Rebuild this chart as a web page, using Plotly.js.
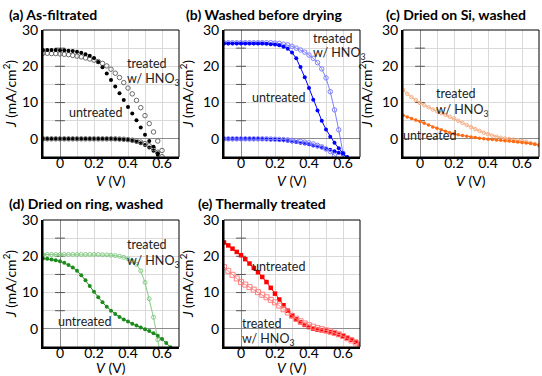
<!DOCTYPE html>
<html>
<head>
<meta charset="utf-8">
<script src="https://cdn.plot.ly/plotly-3.0.1.min.js"></script>
<style>html,body{margin:0;padding:0;background:#fff;}#chart{width:542px;height:376px;}</style>
</head>
<body>
<div id="chart"></div>
<script>
// Voltage sweep (V)
const V = [-0.1,-0.075,-0.05,-0.025,0,0.025,0.05,0.075,0.1,0.125,0.15,0.175,0.2,0.225,0.25,0.275,0.3,0.325,0.35,0.375,0.4,0.425,0.45,0.475,0.5,0.525,0.55,0.575,0.6,0.625,0.65,0.675,0.7];

// (a) As-filtrated
const aUntreatedLight = [24.5,24.5,24.5,24.5,24.4,24.4,24.3,24.2,24.0,23.7,23.3,22.9,22.3,21.2,19.7,18.0,16.2,14.4,12.6,10.7,8.8,7.0,5.1,3.1,1.1,-0.6,-2.2,-4.0,-6.0];
const aTreatedLight = [23.6,23.6,23.5,23.5,23.4,23.3,23.2,23.0,22.8,22.6,22.3,22.0,21.7,21.3,20.8,20.1,19.2,18.1,16.9,15.5,14.0,12.4,10.6,8.6,6.4,4.2,1.9,-0.6,-3.2,-5.8];
const aUntreatedDark = [0,0,0,0,0,0,0,0,0,0,0,0,0,0,0,0,0,-0.05,-0.1,-0.2,-0.3,-0.5,-0.8,-1.2,-1.7,-2.4,-3.3,-4.4,-5.7];
const aTreatedDark = [0,0,0,0,0,0,0,0,0,0,0,0,0,0,0,0,0,0,-0.05,-0.1,-0.2,-0.35,-0.6,-0.9,-1.3,-1.9,-2.7,-3.7,-4.9,-6.3];

// (b) Washed before drying
const bUntreatedLight = [26.3,26.3,26.3,26.3,26.3,26.3,26.3,26.3,26.3,26.3,26.2,26.1,26.0,25.8,25.4,24.8,23.8,22.2,19.8,17.0,14.0,10.8,7.8,5.0,2.6,0.6,-1.1,-2.6,-4.0,-5.4];
const bTreatedLight = [26.5,26.5,26.5,26.5,26.5,26.5,26.5,26.5,26.5,26.5,26.5,26.5,26.4,26.3,26.1,25.9,25.5,25.0,24.5,23.9,23.1,22.2,21.0,19.3,16.8,13.0,8.0,2.5,-4.0,-10.0];
const bUntreatedDark = [0,0,0,0,0,0,0,0,0,-0.05,-0.1,-0.15,-0.2,-0.3,-0.4,-0.55,-0.7,-0.9,-1.1,-1.3,-1.5,-1.8,-2.1,-2.4,-2.7,-3.0,-3.4,-3.8,-4.3,-5.0,-5.7];
const bTreatedDark = [0,0,0,0,0,0,0,0,0,0,0,-0.05,-0.1,-0.15,-0.2,-0.3,-0.4,-0.55,-0.7,-0.9,-1.1,-1.4,-1.8,-2.2,-2.8,-3.5,-4.5,-5.8];

// (c) Dried on Si, washed
const cUntreated = [6.5,6.0,5.6,5.2,4.8,4.3,3.8,3.3,2.9,2.5,2.1,1.7,1.4,1.1,0.9,0.7,0.5,0.35,0.2,0.05,-0.1,-0.2,-0.3,-0.4,-0.5,-0.6,-0.7,-0.85,-1.0,-1.15,-1.3,-1.5,-1.7];
const cTreated = [13.5,12.4,11.5,10.7,9.9,9.3,8.7,8.1,7.6,7.1,6.6,6.1,5.6,5.0,4.4,3.8,3.2,2.7,2.2,1.7,1.3,0.9,0.6,0.3,0.1,-0.05,-0.2,-0.4,-0.6,-0.8,-1.1,-1.4,-1.8];

// (d) Dried on ring, washed
const dUntreated = [19.4,19.3,19.1,18.9,18.6,18.2,17.6,16.9,16.0,14.8,13.4,11.8,10.2,8.7,7.3,6.1,5.0,4.1,3.3,2.6,2.0,1.4,0.9,0.4,-0.1,-0.6,-1.2,-1.9,-2.8,-3.9,-5.1];
const dTreated = [20.5,20.5,20.5,20.5,20.5,20.5,20.5,20.5,20.5,20.5,20.5,20.5,20.5,20.5,20.4,20.4,20.3,20.2,20.0,19.7,19.3,18.7,17.8,16.0,12.8,8.3,3.2,-3.0,-9.5];

// (e) Thermally treated
const eUntreated = [23.8,23.0,22.1,21.2,20.3,19.2,18.0,16.8,15.6,14.3,12.9,11.3,9.7,8.1,6.5,5.0,3.7,2.6,1.8,1.1,0.5,0.1,-0.2,-0.4,-0.6,-0.9,-1.2,-1.6,-2.0,-2.5,-3.0,-3.6,-4.2];
const eTreated = [17.0,16.0,14.9,13.9,12.9,12.2,11.5,10.8,10.1,9.4,8.7,8.0,7.3,6.4,5.4,4.5,3.6,2.8,2.1,1.5,1.0,0.6,0.2,-0.1,-0.4,-0.7,-1.1,-1.5,-2.0,-2.6,-3.2,-3.8,-4.6];

// Ticks
const xTickVals = [-0.1,0,0.1,0.2,0.3,0.4,0.5,0.6,0.7];
const xTickText = ['','0','','0.2','','0.4','','0.6',''];
const yTickVals = [-5,0,5,10,15,20,25,30];
const yTickText = ['','0','','10','','20','','30'];
const yCrossTicks = [5,10,15,20,25];

const panelTitles = ['(a) As-filtrated','(b) Washed before drying','(c) Dried on Si, washed','(d) Dried on ring, washed','(e) Thermally treated'];

const FONT = 'Lato, "Open Sans", sans-serif';

function curve(J, ax, color, symbol, size, mode, open) {
  return {
    x: V.slice(0, J.length), y: J,
    xaxis: 'x' + ax, yaxis: 'y' + ax,
    type: 'scatter', mode: mode,
    line: {color: color, width: 1},
    marker: open ? {symbol: symbol + '-open', size: size, color: color, line: {color: color, width: 1}}
                 : {symbol: symbol, size: size, color: color, line: {width: 0}},
    showlegend: false, hoverinfo: 'skip'
  };
}
function crossTicks(ax) {
  return {x: yCrossTicks.map(() => 0), y: yCrossTicks, xaxis: 'x' + ax, yaxis: 'y' + ax,
    type: 'scatter', mode: 'markers', marker: {symbol: 'line-ew', size: 7, color: '#555', line: {color: '#555', width: 1}},
    showlegend: false, hoverinfo: 'skip'};
}

const data = [
  crossTicks(''), crossTicks('2'), crossTicks('3'), crossTicks('4'), crossTicks('5'),
  curve(aUntreatedDark, '', '#000000', 'circle', 4, 'markers', false),
  curve(aTreatedDark, '', '#6a6a6a', 'circle', 4.5, 'markers', true),
  curve(aTreatedLight, '', '#6a6a6a', 'circle', 4.5, 'markers', true),
  curve(aUntreatedLight, '', '#000000', 'circle', 4, 'markers', false),
  curve(bUntreatedDark, '2', '#0000ff', 'circle', 4, 'lines+markers', false),
  curve(bTreatedDark, '2', '#8080ff', 'circle', 4.5, 'lines+markers', true),
  curve(bTreatedLight, '2', '#8080ff', 'circle', 4.5, 'lines+markers', true),
  curve(bUntreatedLight, '2', '#0000ff', 'circle', 4, 'lines+markers', false),
  curve(cTreated, '3', '#f6ad80', 'circle', 3.5, 'lines+markers', true),
  curve(cUntreated, '3', '#ff6a10', 'circle', 3.5, 'lines+markers', false),
  curve(dTreated, '4', '#86cc86', 'circle', 4, 'lines+markers', true),
  curve(dUntreated, '4', '#1c8a1c', 'circle', 4, 'lines+markers', false),
  curve(eUntreated, '5', '#ff0000', 'square', 4.5, 'lines+markers', false),
  curve(eTreated, '5', '#ff7f7f', 'square', 5, 'lines+markers', true)
];

const W = 542, H = 376;
const colPx = [[43, 179], [224, 360], [403, 539]];
const rowPx = [[30, 157], [220, 347]];
const xTitleOffset = [23, 20];
const place = [[0,0],[1,0],[2,0],[0,1],[1,1]];

const layout = {
  width: W, height: H,
  margin: {l: 0, r: 0, t: 0, b: 0},
  paper_bgcolor: '#fff', plot_bgcolor: '#fff',
  font: {family: FONT, size: 14, color: '#000'},
  showlegend: false,
  annotations: [], shapes: []
};

const suffixes = ['', '2', '3', '4', '5'];
suffixes.forEach((s, i) => {
  const [c, r] = place[i];
  const cx = colPx[c], ry = rowPx[r];
  layout['xaxis' + s] = {
    domain: [cx[0] / W, cx[1] / W], anchor: 'y' + s, range: [-0.1, 0.7],
    tickmode: 'array', tickvals: xTickVals, ticktext: xTickText,
    showgrid: true, gridcolor: '#d9d9d9', gridwidth: 1,
    zeroline: true, zerolinecolor: '#8c8c8c', zerolinewidth: 1,
    showline: true, linecolor: '#000', linewidth: 2, mirror: false,
    ticks: '', ticklabelstandoff: -8, tickfont: {family: FONT, size: 14, color: '#000'},
    automargin: false, fixedrange: true
  };
  layout['yaxis' + s] = {
    domain: [1 - ry[1] / H, 1 - ry[0] / H], anchor: 'x' + s, range: [-5, 30],
    tickmode: 'array', tickvals: yTickVals, ticktext: yTickText,
    showgrid: true, gridcolor: '#d9d9d9', gridwidth: 1,
    zeroline: true, zerolinecolor: '#8c8c8c', zerolinewidth: 1,
    showline: true, linecolor: '#000', linewidth: 2, mirror: false,
    ticks: '', tickfont: {family: FONT, size: 14, color: '#000'},
    title: {text: '<i>J</i> (mA/cm<sup>2</sup>)', font: {family: FONT, size: 14, color: '#000'}, standoff: 6},
    automargin: false, fixedrange: true
  };
  layout.shapes.push({type: 'rect', xref: 'x' + s + ' domain', yref: 'y' + s + ' domain',
    x0: 0, x1: 1, y0: 0, y1: 1, line: {color: '#000', width: 1}, layer: 'above'});
  // x-axis title placed below tick labels
  layout.annotations.push({text: '<i>V</i> (V)', xref: 'paper', yref: 'paper',
    x: (cx[0] + cx[1]) / 2 / W, y: 1 - (ry[1] + xTitleOffset[r]) / H, xanchor: 'center', yanchor: 'middle',
    borderpad: 0, showarrow: false, font: {family: FONT, size: 14, color: '#000'}});
});

// Panel titles
const titlePos = [[8, 15], [185, 15], [385, 15], [8, 204], [197, 204]];
panelTitles.forEach((t, i) => {
  layout.annotations.push({text: '<b>' + t + '</b>', xref: 'paper', yref: 'paper',
    x: titlePos[i][0] / W, y: 1 - titlePos[i][1] / H, xanchor: 'left', yanchor: 'middle',
    borderpad: 0, showarrow: false, font: {family: FONT, size: 14, color: '#000'}});
});

// Curve labels (left edge / vertical centre in pixels)
function label(text, px, py) {
  layout.annotations.push({text: text, xref: 'paper', yref: 'paper', x: px / W, y: 1 - py / H,
    xanchor: 'left', yanchor: 'middle', showarrow: false, borderpad: 0, borderwidth: 0,
    font: {family: FONT, size: 12.5, color: '#222'}});
}
const HNO3 = 'w/ HNO<sub>3</sub>';
label('treated', 127, 63); label(HNO3, 127, 80); label('untreated', 69, 112);
label('treated', 313, 38); label(HNO3, 313, 54); label('untreated', 252, 97);
label('treated', 436, 93); label(HNO3, 436, 110); label('untreated', 403, 135);
label('treated', 127, 245); label(HNO3, 127, 261); label('untreated', 58, 321);
label('untreated', 252, 266); label('treated', 242, 323); label(HNO3, 242, 339);

Plotly.newPlot('chart', data, layout, {staticPlot: true, displayModeBar: false});
</script>
</body>
</html>
